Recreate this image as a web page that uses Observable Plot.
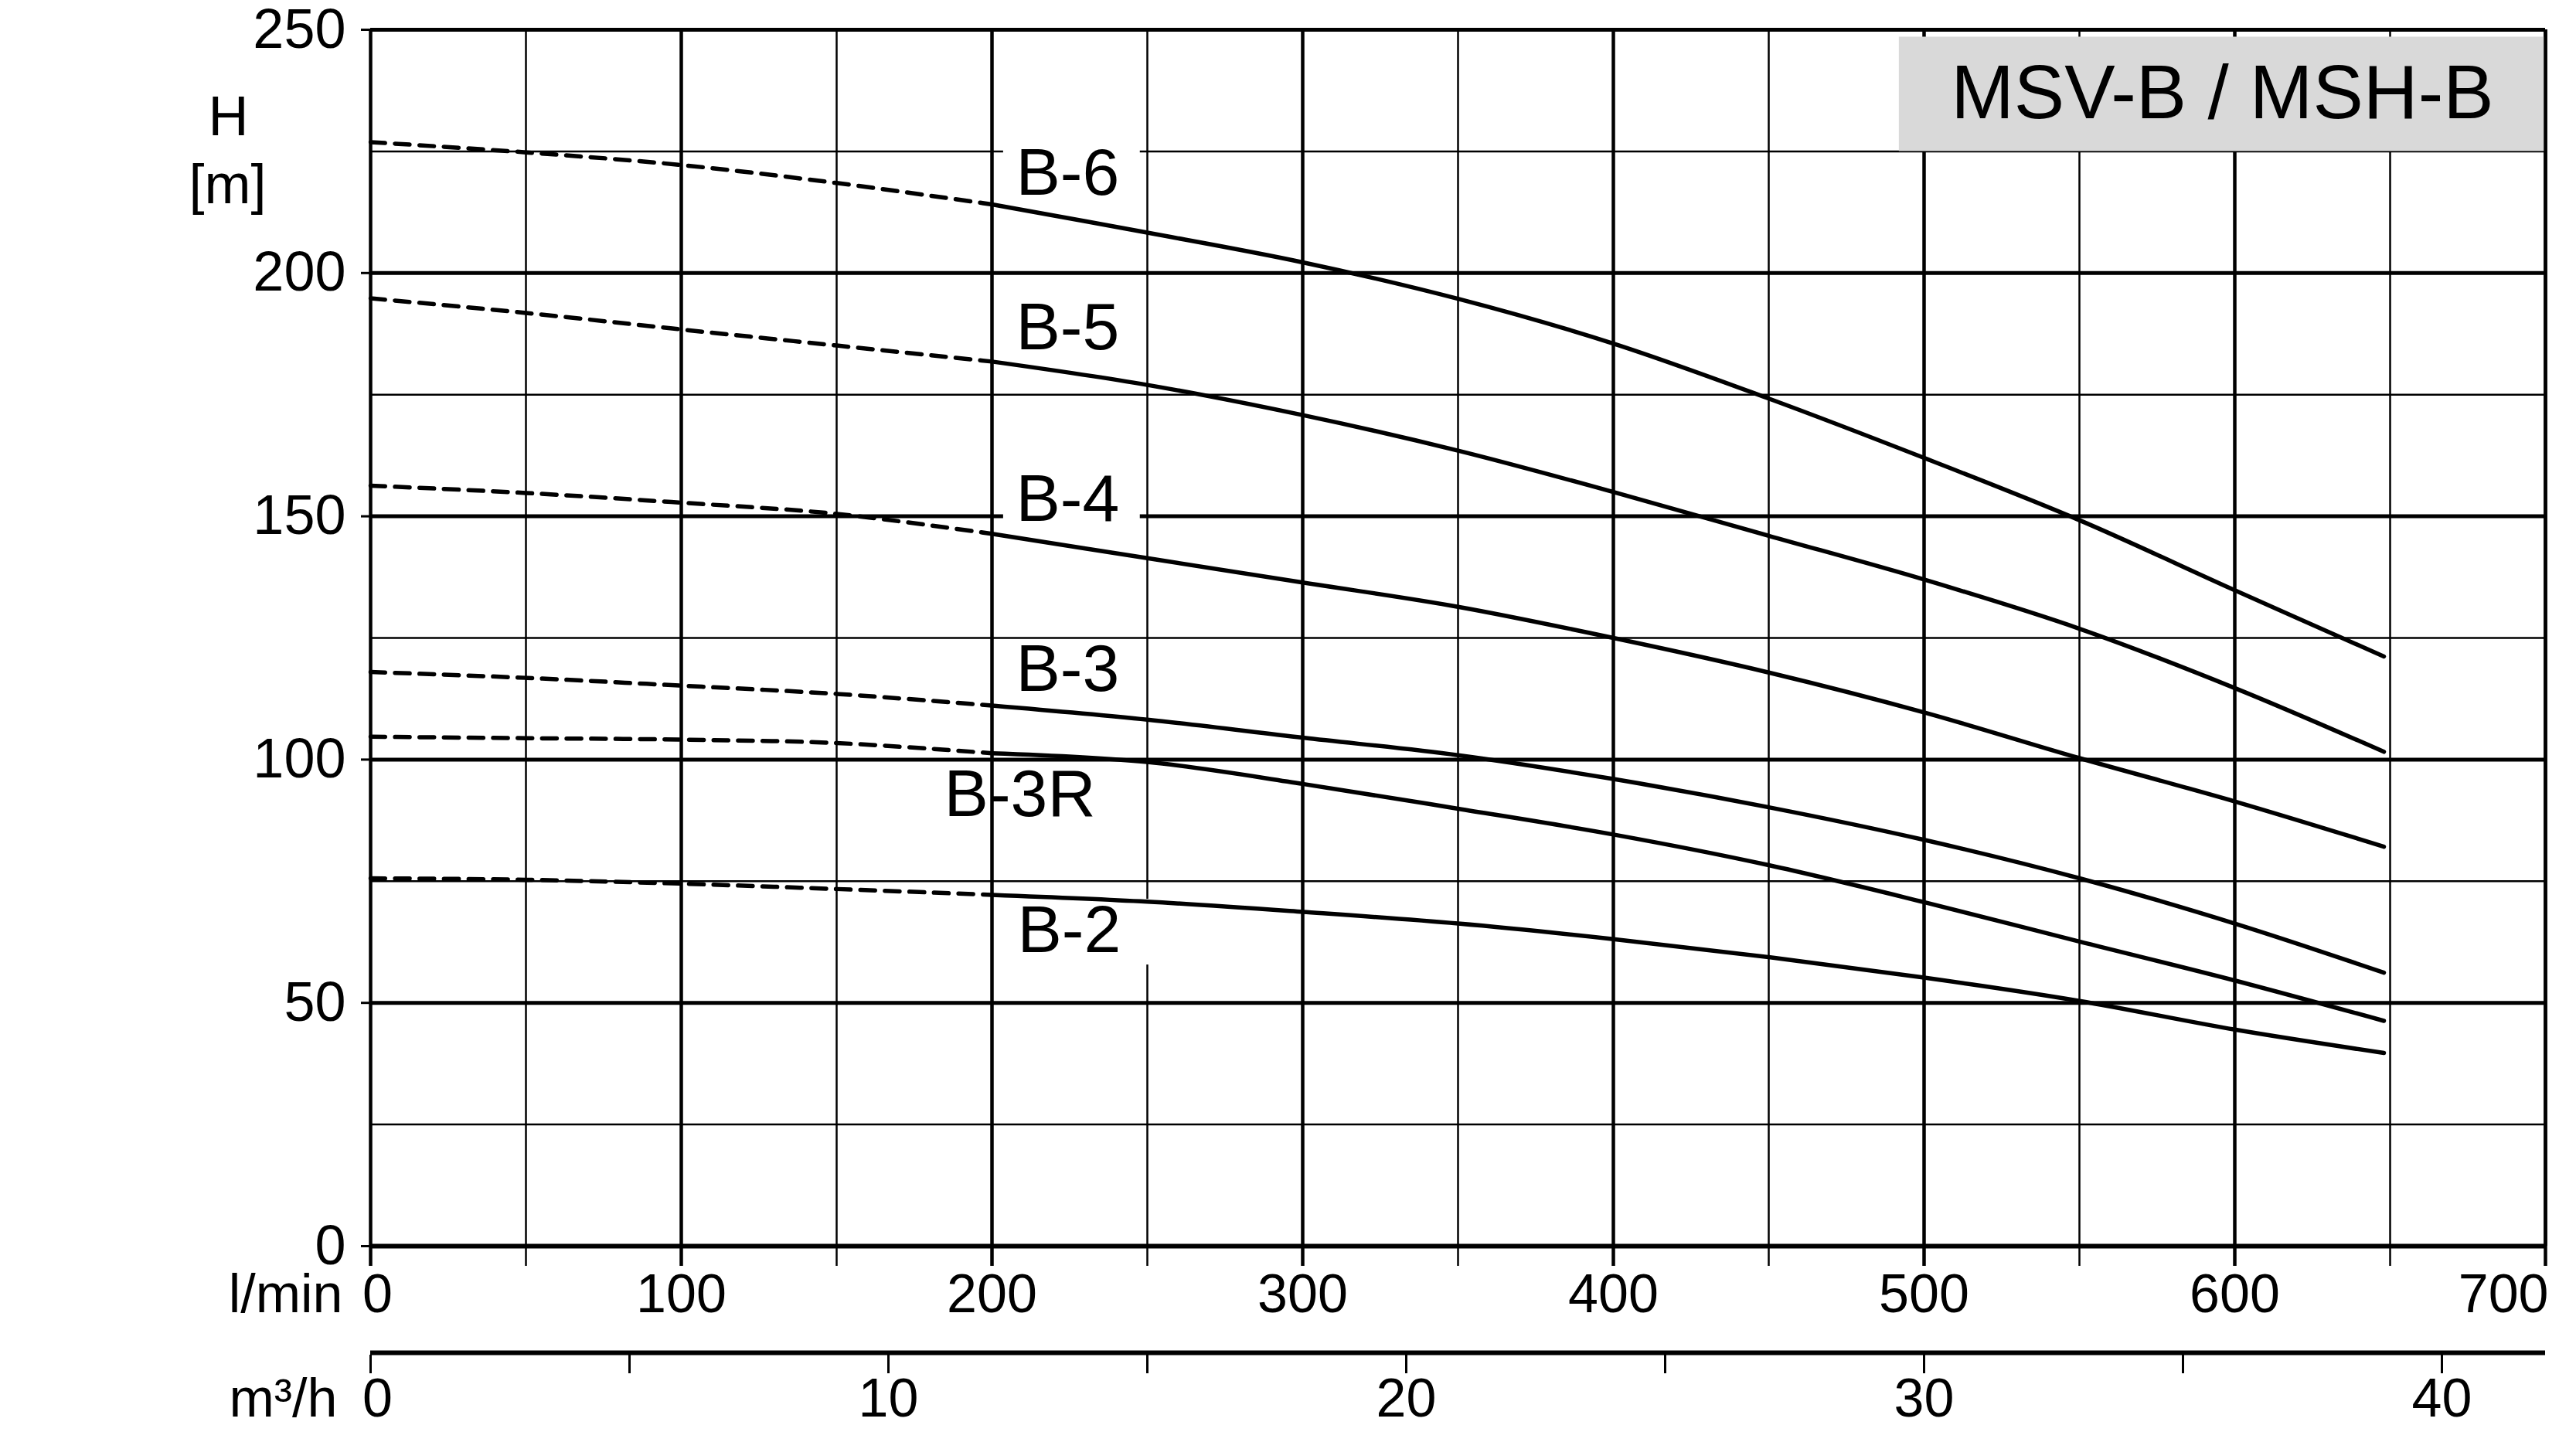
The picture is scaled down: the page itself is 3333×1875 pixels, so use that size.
<!DOCTYPE html>
<html><head><meta charset="utf-8">
<script src="https://cdn.jsdelivr.net/npm/d3@7"></script>
<script src="https://cdn.jsdelivr.net/npm/@observablehq/plot@0.6"></script>
<style>
html,body{margin:0;padding:0;background:#fff;}
#chart svg{display:block;}
</style></head>
<body><div id="chart"></div>
<script>
// ---- data (l/min → H [m]) ----
const flow = [0, 50, 100, 150, 200, 250, 300, 350, 400, 450, 500, 550, 600, 648];
const seriesNames = ["B-6", "B-5", "B-4", "B-3", "B-3R", "B-2"];
const headB6  = [226.9, 224.8, 222.2, 218.5, 214.1, 208.3, 202.2, 194.7, 185.5, 174.2, 162.0, 149.2, 134.8, 121.2];
const headB5  = [194.8, 191.8, 188.4, 185.1, 181.8, 177.0, 170.8, 163.5, 155.0, 146.0, 137.0, 126.9, 114.7, 101.6];
const headB4  = [156.3, 154.8, 152.8, 150.5, 146.4, 141.4, 136.4, 131.4, 125.0, 117.9, 109.7, 100.3, 91.4, 82.1];
const headB3  = [118.0, 116.8, 115.2, 113.5, 111.1, 108.2, 104.5, 100.9, 96.0, 90.2, 83.5, 75.6, 66.3, 56.2];
const headB3R = [104.7, 104.4, 104.1, 103.4, 101.3, 99.5, 95.0, 89.9, 84.6, 78.3, 70.7, 62.6, 54.6, 46.3];
const headB2  = [75.6, 75.3, 74.5, 73.4, 72.2, 70.8, 68.7, 66.3, 63.1, 59.4, 55.2, 50.4, 44.5, 39.7];
const dashedUntil = 200; // curves are dashed below this flow

// curve labels
const labelFlow = [207.7, 207.7, 207.7, 207.7, 184.6, 208.2];
const labelHead = [220.5, 188.7, 153.4, 118.5, 92.8, 64.8];

// ticks
const yTicks = [0, 50, 100, 150, 200, 250];
const yMinor = [25, 75, 125, 175, 225];
const xMajor = [0, 100, 200, 300, 400, 500, 600, 700];
const xMinor = [50, 150, 250, 350, 450, 550, 650];
const lminLabels = [100, 200, 300, 400, 500, 600];
const m3hTicks = [0, 5, 10, 15, 20, 25, 30, 35, 40];
const m3hLabels = [10, 20, 30, 40];
const title = "MSV-B / MSH-B";
const titleBox = {q1: 492, q2: 700, h1: 225, h2: 248.5};

// ---- build tables ----
const heads = [headB6, headB5, headB4, headB3, headB3R, headB2];
const rows = [];
seriesNames.forEach((name, s) => flow.forEach((q, i) => rows.push({name, q, h: heads[s][i]})));
const dashedRows = rows.filter(d => d.q <= dashedUntil);
const solidRows = rows.filter(d => d.q >= dashedUntil);
const labels = seriesNames.map((name, i) => ({name, q: labelFlow[i], h: labelHead[i]}));
const boxed = labels.filter(d => ["B-6", "B-4", "B-2"].includes(d.name));
const toLmin = m => m * 1000 / 60;

const font = "'Liberation Sans', Arial, Helvetica, sans-serif";

const chart = Plot.plot({
  width: 3333, height: 1875,
  marginLeft: 479, marginRight: 40, marginTop: 38, marginBottom: 263,
  x: {domain: [0, 700], label: null},
  y: {domain: [0, 250], label: null},
  style: {fontFamily: font, color: "#000", background: "#fff", overflow: "visible"},
  marks: [
    // minor grid
    Plot.ruleY(yMinor, {stroke: "#000", strokeWidth: 2.5}),
    Plot.ruleX(xMinor, {stroke: "#000", strokeWidth: 2.5, insetBottom: -26}),
    // major grid
    Plot.ruleY(yTicks, {stroke: "#000", strokeWidth: 5}),
    Plot.ruleX(xMajor, {stroke: "#000", strokeWidth: 4.5, insetBottom: -26}),
    // title box
    Plot.rect([title], {x1: () => titleBox.q1, x2: () => titleBox.q2, y1: () => titleBox.h1, y2: () => titleBox.h2, fill: "#d9d9d9"}),
    Plot.text([title], {x: () => (titleBox.q1 + titleBox.q2) / 2, y: () => (titleBox.h1 + titleBox.h2) / 2, text: d => d, fontSize: 98, fill: "#000"}),
    Plot.ruleX([700], {stroke: "#000", strokeWidth: 4.5}),
    Plot.ruleY([0], {stroke: "#000", strokeWidth: 6}),
    // y axis
    Plot.axisY(yTicks, {tickSize: 12, tickPadding: 20, fontSize: 72, strokeWidth: 3, label: null, tickFormat: d => String(d)}),
    Plot.text(["H"], {frameAnchor: "top-left", dx: -184, dy: 85, lineAnchor: "top", textAnchor: "middle", fontSize: 72, text: d => d}),
    Plot.text(["[m]"], {frameAnchor: "top-left", dx: -185, dy: 173, lineAnchor: "top", textAnchor: "middle", fontSize: 72, text: d => d}),
    // x axis (l/min)
    Plot.text(lminLabels, {x: d => d, frameAnchor: "bottom", lineAnchor: "top", dy: 36, fontSize: 70, text: d => String(d)}),
    Plot.text([0], {x: d => d, frameAnchor: "bottom", lineAnchor: "top", dy: 36, dx: 9, fontSize: 70, text: d => String(d)}),
    Plot.text([700], {x: d => d, frameAnchor: "bottom", lineAnchor: "top", textAnchor: "end", dy: 36, dx: 4, fontSize: 70, text: d => String(d)}),
    Plot.text(["l/min"], {frameAnchor: "bottom-left", lineAnchor: "top", textAnchor: "end", dx: -36, dy: 36, fontSize: 70, text: d => d}),
    // second axis (m³/h)
    Plot.ruleY([0], {stroke: "#000", strokeWidth: 6, dy: 138}),
    Plot.axisX(m3hTicks.map(toLmin), {anchor: "bottom", tickSize: 24, dy: 141, strokeWidth: 3, label: null, tickFormat: () => ""}),
    Plot.text(m3hLabels, {x: d => toLmin(d), frameAnchor: "bottom", lineAnchor: "top", dy: 171, fontSize: 70, text: d => String(d)}),
    Plot.text([0], {x: d => d, frameAnchor: "bottom", lineAnchor: "top", dy: 171, dx: 9, fontSize: 70, text: d => String(d)}),
    Plot.text(["m³/h"], {frameAnchor: "bottom-left", lineAnchor: "top", textAnchor: "end", dx: -43, dy: 171, fontSize: 70, text: d => d}),
    // label boxes + labels
    Plot.rect(boxed, {x1: d => d.q - 4, x2: d => d.q + (d.name === "B-2" ? 45 : 40), y1: d => d.h - (d.name === "B-2" ? 7 : 5.5), y2: d => d.h + (d.name === "B-2" ? 6.5 : 5.5), fill: "#fff"}),
    Plot.text(labels, {x: "q", y: "h", text: "name", textAnchor: "start", fontSize: 86, fill: "#000"}),
    // curves
    Plot.line(dashedRows, {x: "q", y: "h", z: "name", stroke: "#000", strokeWidth: 5.5, strokeDasharray: "19,12.7", curve: "catmull-rom"}),
    Plot.line(solidRows, {x: "q", y: "h", z: "name", stroke: "#000", strokeWidth: 5.5, curve: "catmull-rom"})
  ]
});
document.getElementById("chart").appendChild(chart);
</script>
</body></html>
